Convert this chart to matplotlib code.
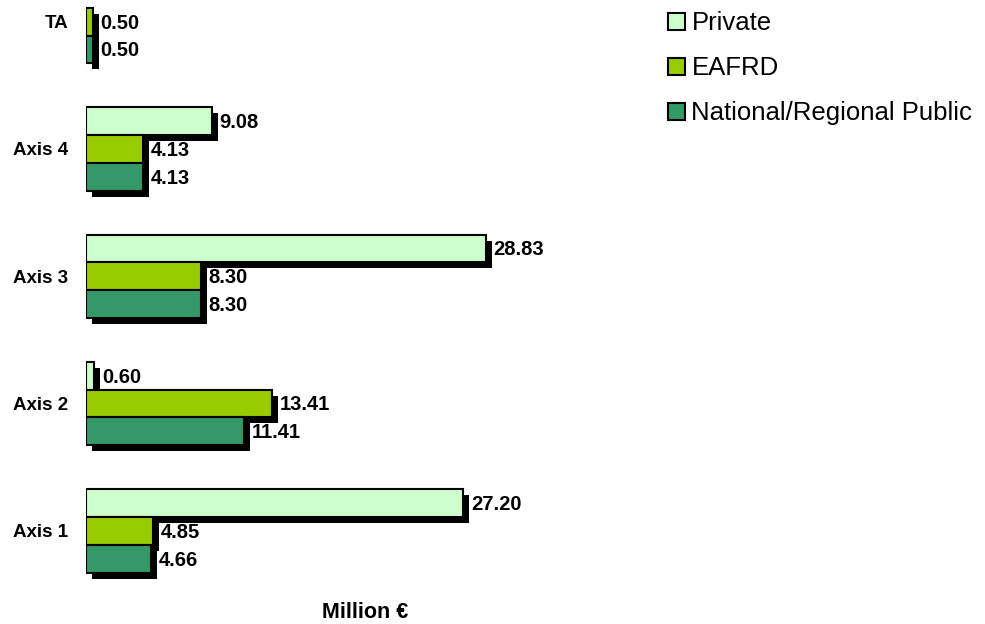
import numpy as np
import matplotlib
matplotlib.use('Agg')
import matplotlib.pyplot as plt
import matplotlib.transforms as mtransforms
from matplotlib.patches import Patch

plt.rcParams['font.family'] = ['Liberation Sans', 'DejaVu Sans']

# Data (million euro)
categories = ['Axis 1', 'Axis 2', 'Axis 3', 'Axis 4', 'TA']
private = [27.20, 0.60, 28.83, 9.08, np.nan]
eafrd = [4.85, 13.41, 8.30, 4.13, 0.50]
national = [4.66, 11.41, 8.30, 4.13, 0.50]

series = [('Private', private, '#CCFFCC'),
          ('EAFRD', eafrd, '#99CC00'),
          ('National/Regional Public', national, '#339966')]

fig = plt.figure(figsize=(9.85, 6.24), dpi=100)
# axes placed in figure pixels so the groups line up with the reference
ax = fig.add_axes([86 / 985, 4 / 624, 555 / 985, 5.1 * 127.3 / 624])

y = np.arange(len(categories))
h = 0.218
offsets = [h, 0, -h]

# black drop shadow, shifted 6 px right and 6 px down
shadow = mtransforms.offset_copy(ax.transData, fig=fig, x=6, y=-6, units='dots')
for (name, vals, col), off in zip(series, offsets):
    ax.barh(y + off, vals, height=h, color='black', transform=shadow, zorder=1)

for (name, vals, col), off in zip(series, offsets):
    ax.barh(y + off, vals, height=h, color=col, edgecolor='black',
            linewidth=1.5, zorder=2, label=name)
    for yi, v in zip(y + off, vals):
        if np.isnan(v):
            continue
        ax.annotate(f'{v:.2f}', (v, yi), textcoords='offset points',
                    xytext=(5.5, -1), ha='left', va='center',
                    fontsize=14.5, fontweight='bold')

ax.set_xlim(0, 40)
ax.set_ylim(-0.7, 4.4)
ax.set_yticks(y)
ax.set_yticklabels(categories, fontsize=13.5, fontweight='bold')
ax.tick_params(axis='y', length=0, pad=13)
ax.set_xticks([])
for s in ax.spines.values():
    s.set_visible(False)

fig.text(365 / 985, 1 - 613 / 624, 'Million €', ha='center', va='center',
         fontsize=15.5, fontweight='bold')

handles = [Patch(facecolor=c, edgecolor='black', linewidth=1.5, label=n)
           for n, _, c in series]
fig.legend(handles=handles, loc='upper left', bbox_to_anchor=(658 / 985, 1 - 1 / 624),
           frameon=False, fontsize=18.5, handlelength=0.65, handleheight=0.65,
           handletextpad=0.25, labelspacing=0.82, borderaxespad=0)

fig.savefig('out.png', dpi=100)
